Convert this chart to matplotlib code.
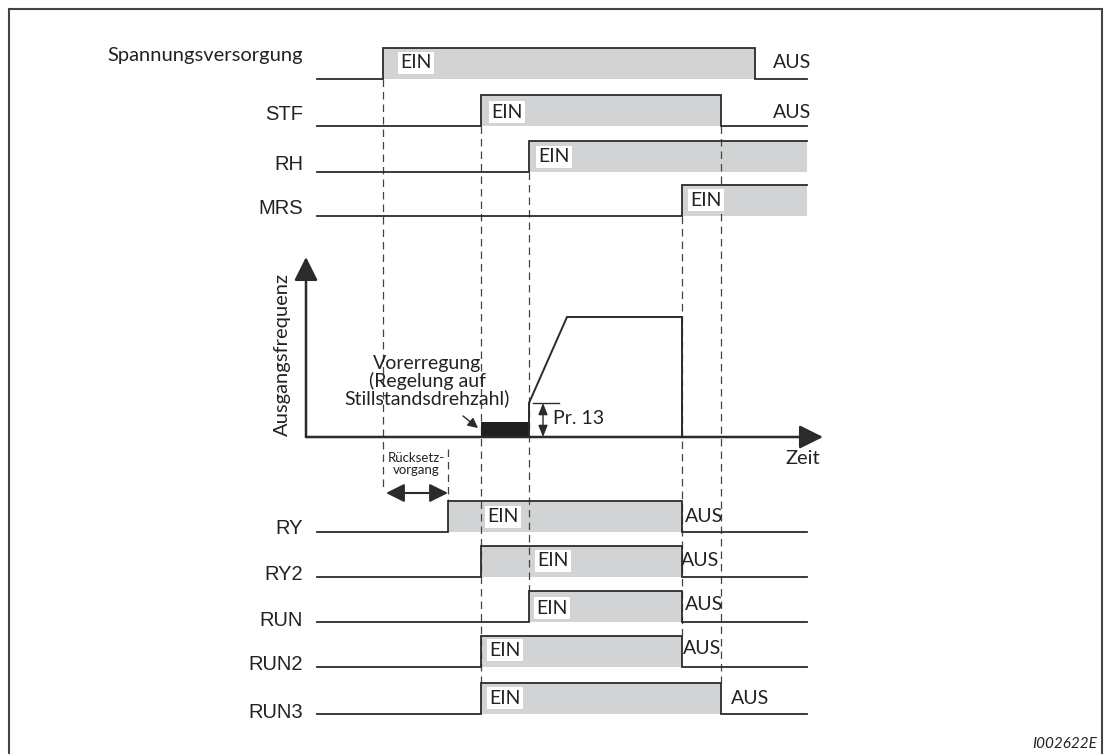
import matplotlib
matplotlib.use('Agg')
import matplotlib.pyplot as plt
from matplotlib.patches import Rectangle

# timing data (time units, 0 = start of signal lines)
names = ['Spannungsversorgung', 'STF', 'RH', 'MRS', 'RY', 'RY2', 'RUN', 'RUN2', 'RUN3']
t_on = [6.6, 16.4, 21.2, 36.5, 13.1, 16.4, 21.2, 16.4, 16.4]
t_off = [43.8, 40.4, None, None, 36.5, 36.5, 36.5, 36.5, 40.4]
t_end = 49.0

# output frequency (arbitrary units)
freq_t = [21.2, 21.2, 25.0, 36.5, 36.5]
freq_f = [0, 17, 60, 60, 0]
f_pre = 7.5
f_pr13 = 17
t_axis0 = -1.1
t_axis1 = 50.6

# layout in pixels
W, H = 1105, 754
row_y = [79, 126, 172, 216, 532, 577, 622, 667, 714]
hi = 31
label_y = [55, 115, 164, 209, 529, 574, 620, 665, 712]
ein_xy = [(416, 63), (507, 112), (554, 157), (706, 200), (503, 517), (553, 561),
          (552, 608), (505, 650), (505, 698)]
aus_xy = [(792, 63), (792, 112), None, None, (704, 517), (700, 560), (704, 605),
          (702, 648), (750, 699)]

# dashed guide lines: time, y from, y to
guides = [(6.6, 79, 490), (13.1, 449, 501), (16.4, 126, 683), (21.2, 172, 591),
          (36.5, 216, 636), (40.4, 126, 683)]

ink = '#2b2b2b'
grey = '#d2d3d5'
myriad = ['Lato', 'DejaVu Sans']
arial = ['Liberation Sans', 'DejaVu Sans']


def px(x):
    return (x - 317) / 10.0


fig = plt.figure(figsize=(W / 100, H / 100), dpi=100)
ax = fig.add_axes([0, 0, 1, 1])
ax.set_xlim(px(0), px(W))
ax.set_ylim(H, 0)
ax.axis('off')

# frame
fig.patches.append(Rectangle((8.5 / W, -0.05), (1102 - 8.5) / W, (H - 8.5) / H + 0.05,
                             transform=fig.transFigure, fill=False, ec='#444444', lw=1.5))

for i, name in enumerate(names):
    lo = row_y[i]
    up = lo - hi
    on, off = t_on[i], t_off[i]
    stop = off if off is not None else t_end
    ax.fill_between([on, stop], up, lo, color=grey, lw=0, zorder=1)
    if off is None:
        xs = [0, on, on, t_end]
        ys = [lo, lo, up, up]
    else:
        xs = [0, on, on, off, off, t_end]
        ys = [lo, lo, up, up, lo, lo]
    ax.plot(xs, ys, color=ink, lw=1.3, zorder=3, solid_joinstyle='miter')
    fam = myriad if i == 0 else arial
    ax.text(px(303), label_y[i], name, ha='right', va='center', fontsize=14.5,
            family=fam, color='#222222')
    ex, ey = ein_xy[i]
    ax.text(px(ex), ey, 'EIN', ha='center', va='center', fontsize=14, family=myriad,
            color='#222222', zorder=5,
            bbox=dict(boxstyle='square,pad=0.12', fc='white', ec='none'))
    if aus_xy[i] is not None:
        ax_, ay = aus_xy[i]
        ax.text(px(ax_), ay, 'AUS', ha='center', va='center', fontsize=14,
                family=myriad, color='#222222', zorder=5)

for t, y0, y1 in guides:
    ax.plot([t, t], [y0, y1], color='#444444', lw=0.9, dashes=[6, 4], zorder=2)

# Ruecksetzvorgang
ax.annotate('', xy=(px(386), 493), xytext=(px(448), 493),
            arrowprops=dict(arrowstyle='<|-|>,head_length=0.7,head_width=0.35',
                            color=ink, lw=1.5, mutation_scale=16, shrinkA=0, shrinkB=0))
ax.text(px(416), 464, 'Rücksetz-\nvorgang', ha='center', va='center', fontsize=9.5,
        family=myriad, color='#222222', linespacing=1.05)

# frequency chart
fx = fig.add_axes([0, (H - 437) / H, 1, 180 / H])
fx.set_xlim(ax.get_xlim())
fx.set_ylim(0, 90)
fx.axis('off')
fx.patch.set_alpha(0)

fx.annotate('', xy=(t_axis0, 90), xytext=(t_axis0, 0),
            arrowprops=dict(arrowstyle='-|>,head_length=0.9,head_width=0.45',
                            color=ink, lw=1.8, mutation_scale=16, shrinkA=0, shrinkB=0))
fx.annotate('', xy=(t_axis1, 0), xytext=(t_axis0, 0),
            arrowprops=dict(arrowstyle='-|>,head_length=0.9,head_width=0.45',
                            color=ink, lw=1.8, mutation_scale=16, shrinkA=0, shrinkB=0))
fx.plot(freq_t, freq_f, color=ink, lw=1.4, solid_joinstyle='miter')
fx.fill_between([t_on[1], t_on[2]], 0, f_pre, color='#1e1e1e', lw=0)

# Pr. 13 marker
fx.plot([px(533), px(559)], [f_pr13, f_pr13], color=ink, lw=1)
fx.annotate('', xy=(px(543), f_pr13), xytext=(px(543), 0),
            arrowprops=dict(arrowstyle='<|-|>,head_length=0.5,head_width=0.2',
                            color=ink, lw=1, mutation_scale=14, shrinkA=0, shrinkB=0))
fx.text(px(553), 9, 'Pr. 13', ha='left', va='center', fontsize=14, family=myriad,
        color='#222222')

ax.annotate('', xy=(px(478), 428), xytext=(px(463), 416),
            arrowprops=dict(arrowstyle='-|>,head_length=0.5,head_width=0.25',
                            color=ink, lw=1, mutation_scale=12, shrinkA=0, shrinkB=0))
ax.text(px(427), 381, 'Vorerregung\n(Regelung auf\nStillstandsdrehzahl)', ha='center',
        va='center', fontsize=14, family=myriad, color='#222222', linespacing=1.0)
ax.text(px(282), 355, 'Ausgangsfrequenz', rotation=90, ha='center', va='center',
        fontsize=14.5, family=myriad, color='#222222')
ax.text(px(820), 458, 'Zeit', ha='right', va='center', fontsize=14.5, family=myriad,
        color='#222222')

ax.text(px(1097), 744, 'I002622E', ha='right', va='center', fontsize=11,
        style='italic', family=myriad, color='#222222')

fig.savefig('out.png', dpi=100)
